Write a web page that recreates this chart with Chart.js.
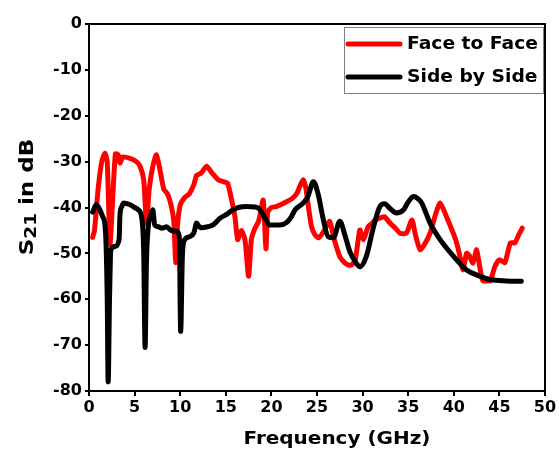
<!DOCTYPE html>
<html lang="en">
<head>
    <meta charset="UTF-8">
    <title>S21 vs Frequency</title>
    <style>
        body {
            margin: 0;
            padding: 0;
            background: #ffffff;
        }

        #chart-container {
            width: 559px;
            height: 451px;
        }
    </style>
    <script src="https://cdn.jsdelivr.net/npm/chart.js"></script>
</head>
<body>

    <div id="chart-container">
        <canvas id="s21Chart"></canvas>
    </div>

    <script>
        // Face to Face (red)
        const faceX = [0.4, 0.6, 1.0, 1.4, 1.75, 2.0, 2.3, 2.6, 2.9, 3.2, 3.4, 3.7, 4.5, 5.2, 5.6, 6.0, 6.3, 6.6, 7.0, 7.4,
            7.8, 8.2, 8.6, 9.0, 9.3, 9.5, 9.7, 10.0, 10.5, 11.0, 11.5, 11.8, 12.3, 12.9, 13.5, 14.2, 14.8, 15.2, 15.6, 16.0,
            16.3, 16.7, 17.1, 17.5, 17.8, 18.2, 18.6, 19.1, 19.4, 19.6, 20.0, 20.5, 21.0, 21.7, 22.3, 22.8, 23.2, 23.5, 23.8, 24.0,
            24.4, 24.8, 25.2, 25.8, 26.4, 26.8, 27.2, 27.5, 28.0, 28.4, 28.8, 29.2, 29.7, 30.1, 30.6, 31.0, 31.4, 31.9, 32.4, 33.0,
            33.6, 34.1, 34.8, 35.4, 35.8, 36.3, 36.8, 37.4, 38.0, 38.5, 39.2, 39.8, 40.2, 40.6, 41.0, 41.4, 41.7, 42.1, 42.5, 42.9,
            43.2, 43.6, 44.0, 44.5, 45.0, 45.6, 46.2, 46.7, 47.1, 47.5];
        const faceY = [-46.5, -45, -36, -30, -28.2, -30, -48, -38, -28.3, -28.5, -30.3, -29, -29.3, -30, -31, -34, -43.5, -36, -31, -28.5,
            -32, -36, -37, -39.5, -43, -52, -44, -39.5, -37.8, -37, -35, -33, -32.5, -31, -32.5, -34, -34.4, -34.7, -38, -42,
            -47, -45, -47, -55, -47, -44.5, -43, -38.4, -49, -41, -40, -39.8, -39.4, -38.7, -38, -36.9, -35, -34, -36, -39,
            -44.2, -46, -46.6, -45, -43, -46.3, -49, -50.7, -52, -52.5, -52.5, -51.4, -44.9, -47, -44.2, -43.5, -42.7, -42.3, -42, -43.4,
            -44.5, -45.6, -45.6, -42.7, -46, -49.2, -48, -45.6, -41.5, -39, -42, -44.9, -47, -50, -53.6, -50, -50.5, -52.1, -49.2, -53.6,
            -56, -56, -56, -52.9, -51.4, -52, -47.7, -47.7, -46, -44.5];

        // Side by Side (black)
        const sideX = [0.4, 0.8, 1.2, 1.5, 1.8, 2.0, 2.1, 2.25, 2.4, 2.85, 3.3, 3.4, 3.6, 3.8, 4.5, 5.0, 5.4, 5.8, 6.0, 6.15,
            6.3, 6.5, 6.8, 7.0, 7.2, 7.6, 8.0, 8.5, 9.0, 9.6, 9.9, 10.05, 10.25, 10.5, 11.1, 11.5, 11.8, 12.2, 13.0, 13.6,
            14.4, 15.1, 15.8, 16.4, 17.3, 18.2, 18.6, 19.0, 19.3, 19.8, 20.9, 21.7, 22.2, 22.6, 23.5, 24.0, 24.6, 25.1, 25.7, 26.2,
            26.8, 27.5, 28.1, 28.6, 29.2, 29.7, 30.4, 31.2, 31.9, 32.4, 33.0, 33.7, 34.5, 35.0, 35.6, 36.2, 36.5, 37.4, 38.5, 40.0,
            41.4, 42.9, 44.0, 45.8, 47.4];
        const sideY = [-41, -39.4, -40.5, -42, -45, -60, -78, -60, -49.2, -48.5, -47, -41.5, -39.8, -39, -39.4, -40, -40.5, -42.5, -50, -70.5,
            -52, -44.2, -41.5, -40.5, -43.8, -44.2, -44.5, -44.2, -45, -45.2, -46.3, -67, -50, -47, -46.3, -45.5, -43.4, -44.4, -44.2, -43.8,
            -42.3, -41.5, -40.5, -40, -39.8, -39.9, -40.2, -41.2, -42.3, -43.8, -43.8, -43.2, -42, -40.5, -39, -37.6, -34.4, -36.9, -42.7, -46.3,
            -46.6, -43, -46.3, -49.6, -51.8, -52.9, -50.7, -44.2, -39.8, -39.2, -40.2, -41.2, -40.5, -38.8, -37.6, -38.3, -39.1, -43.4, -47, -50.7,
            -53.6, -55, -55.7, -56, -56.1];

        const seriesNames = ['Face to Face', 'Side by Side'];
        const seriesColors = ['#ff0000', '#000000'];

        const FONT = '"DejaVu Sans", Arial, sans-serif';

        // text drawn a little wider than the font, like the original
        function wideText(ctx, text, x, y, sx) {
            ctx.save();
            ctx.translate(x, y);
            ctx.scale(sx, 1);
            ctx.fillText(text, 0, 0);
            ctx.restore();
        }

        // frame, axis titles and legend box
        const decorPlugin = {
            id: 'decor',
            afterDraw(chart) {
                const ctx = chart.ctx;
                const area = chart.chartArea;
                ctx.save();

                // top and right frame lines
                ctx.strokeStyle = '#000';
                ctx.lineWidth = 2;
                ctx.beginPath();
                ctx.moveTo(area.left, area.top);
                ctx.lineTo(area.right, area.top);
                ctx.lineTo(area.right, area.bottom);
                ctx.stroke();

                // x axis title
                ctx.fillStyle = '#000';
                ctx.font = 'bold 18px ' + FONT;
                ctx.textAlign = 'center';
                ctx.textBaseline = 'middle';
                wideText(ctx, 'Frequency (GHz)', 337, 439, 1.11);

                // y axis title with subscript
                const sx = 1.15;
                ctx.translate(26, 197);
                ctx.rotate(-Math.PI / 2);
                ctx.textAlign = 'left';
                ctx.textBaseline = 'alphabetic';
                const big = 'bold 20px ' + FONT;
                const small = 'bold 16px ' + FONT;
                ctx.font = big;
                const wS = ctx.measureText('S').width * sx;
                const wRest = ctx.measureText(' in dB').width * sx;
                ctx.font = small;
                const w21 = ctx.measureText('21').width * sx;
                const x0 = -(wS + w21 + wRest) / 2;
                ctx.font = big;
                wideText(ctx, 'S', x0, 7, sx);
                ctx.font = small;
                wideText(ctx, '21', x0 + wS, 10, sx);
                ctx.font = big;
                wideText(ctx, ' in dB', x0 + wS + w21, 7, sx);
                ctx.restore();

                // legend
                ctx.save();
                ctx.fillStyle = '#fff';
                ctx.fillRect(344, 27, 199, 66);
                ctx.strokeStyle = '#808080';
                ctx.lineWidth = 1;
                ctx.strokeRect(344.5, 27.5, 199, 66);
                ctx.lineCap = 'round';
                ctx.font = 'bold 17px ' + FONT;
                ctx.textAlign = 'left';
                ctx.textBaseline = 'middle';
                const rows = [44, 77];
                seriesNames.forEach((name, i) => {
                    ctx.strokeStyle = seriesColors[i];
                    ctx.lineWidth = 5;
                    ctx.beginPath();
                    ctx.moveTo(348, rows[i]);
                    ctx.lineTo(400, rows[i]);
                    ctx.stroke();
                    ctx.fillStyle = '#000';
                    wideText(ctx, name, 407, rows[i] + 1, 1.1);
                });
                ctx.restore();
            }
        };

        function createChart() {
            const ctx = document.getElementById('s21Chart').getContext('2d');
            new Chart(ctx, {
                type: 'line',
                data: {
                    datasets: [
                        {
                            label: seriesNames[1],
                            data: sideX.map((x, i) => ({ x: x, y: sideY[i] })),
                            borderColor: seriesColors[1],
                            borderWidth: 5,
                            pointRadius: 0,
                            cubicInterpolationMode: 'monotone',
                            borderCapStyle: 'round',
                            borderJoinStyle: 'round',
                            fill: false
                        },
                        {
                            label: seriesNames[0],
                            data: faceX.map((x, i) => ({ x: x, y: faceY[i] })),
                            borderColor: seriesColors[0],
                            borderWidth: 5,
                            pointRadius: 0,
                            tension: 0.2,
                            borderCapStyle: 'round',
                            borderJoinStyle: 'round',
                            fill: false
                        }
                    ]
                },
                options: {
                    responsive: false,
                    animation: false,
                    layout: {
                        padding: { top: 24, right: 14, left: 0, bottom: 0 }
                    },
                    plugins: {
                        legend: { display: false },
                        tooltip: { enabled: false }
                    },
                    scales: {
                        x: {
                            type: 'linear',
                            min: 0,
                            max: 50,
                            afterFit: (scale) => { scale.height = 60; },
                            grid: {
                                drawOnChartArea: false,
                                color: '#000',
                                lineWidth: 2,
                                tickLength: 5
                            },
                            border: { color: '#000', width: 2 },
                            ticks: {
                                stepSize: 5,
                                color: '#000',
                                padding: 2,
                                maxRotation: 0,
                                font: { family: FONT, size: 16, weight: 'bold' }
                            }
                        },
                        y: {
                            min: -80,
                            max: 0,
                            afterFit: (scale) => { scale.width = 89; },
                            grid: {
                                drawOnChartArea: false,
                                color: '#000',
                                lineWidth: 2,
                                tickLength: 4
                            },
                            border: { color: '#000', width: 2 },
                            ticks: {
                                stepSize: 10,
                                color: '#000',
                                padding: 3,
                                font: { family: FONT, size: 16, weight: 'bold' }
                            }
                        }
                    }
                },
                plugins: [decorPlugin]
            });
        }

        window.onload = function () {
            const canvas = document.getElementById('s21Chart');
            canvas.width = 559;
            canvas.height = 451;
            createChart();
        };
    </script>

</body>
</html>
